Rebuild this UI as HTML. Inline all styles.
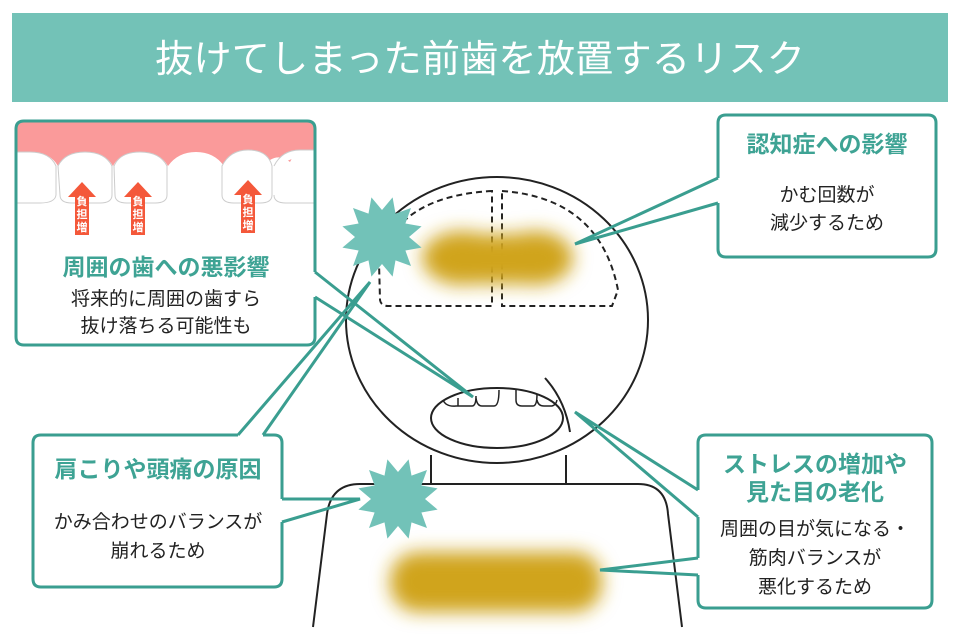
<!DOCTYPE html>
<html><head><meta charset="utf-8"><style>
html,body{margin:0;padding:0;background:#fff;}
svg{display:block;}
text{font-family:"Liberation Sans","Noto Sans CJK JP",sans-serif;}
</style></head><body>
<svg width="960" height="640" viewBox="0 0 960 640" xmlns="http://www.w3.org/2000/svg">
<defs>
<filter id="bl" x="-50%" y="-50%" width="200%" height="200%"><feGaussianBlur stdDeviation="9"/></filter>
<clipPath id="c1"><rect x="16" y="121" width="299" height="224" rx="8"/></clipPath>
<polygon id="star" points="27,0 39.6,10.6 23.4,13.5 29,29 13.5,23.4 10.6,39.6 0,27 -10.6,39.6 -13.5,23.4 -29,29 -23.4,13.5 -39.6,10.6 -27,0 -39.6,-10.6 -23.4,-13.5 -29,-29 -13.5,-23.4 -10.6,-39.6 0,-27 10.6,-39.6 13.5,-23.4 29,-29 23.4,-13.5 39.6,-10.6"/>
<g id="arr"><polygon points="0,0 14,15 7,15 7,53 -7,53 -7,15 -14,15" fill="#f4583a"/></g>
</defs>

<rect x="12" y="13" width="936" height="89" fill="#73c2b7"/>
<text x="155" y="72" font-size="38" fill="#fff" textLength="650" lengthAdjust="spacingAndGlyphs">抜けてしまった前歯を放置するリスク</text>

<path d="M313,627 L327,514 Q331,484 360,484 L638,484 Q666,484 668,514 L682,627" fill="none" stroke="#222" stroke-width="2"/>
<line x1="431" y1="455" x2="431" y2="484" stroke="#222" stroke-width="2"/>
<line x1="566" y1="455" x2="566" y2="484" stroke="#222" stroke-width="2"/>
<ellipse cx="497" cy="320" rx="151" ry="143" fill="#fff" stroke="#222" stroke-width="2"/>
<path d="M492,191 Q398,196 379,262 L380,300 Q381,306 388,306 L492,306 Z" fill="none" stroke="#222" stroke-width="2" stroke-dasharray="6,4"/>
<path d="M502,191 Q600,198 618,290 L612,306 L502,306 Z" fill="none" stroke="#222" stroke-width="2" stroke-dasharray="6,4"/>
<ellipse cx="497" cy="418" rx="66" ry="30" fill="#fff" stroke="#222" stroke-width="2"/>
<path d="M443,400 Q446,407 456,406 L472,406 Q476,406 476,396 M458,398 L458,406 M476,398 Q477,406 482,406 L494,406 Q499,406 499,390 M516,390 L516,400 Q516,406 522,406 L533,406 Q537,406 537,394 M537,400 Q538,406 544,406 L552,406 Q556,405 557,400" fill="none" stroke="#222" stroke-width="1.5"/>
<path d="M545,378 Q565,400 570,432" fill="none" stroke="#222" stroke-width="2"/>

<g filter="url(#bl)" fill="#d0a41e">
<ellipse cx="462" cy="258" rx="40" ry="27"/>
<ellipse cx="535" cy="258" rx="38" ry="27"/>
<rect x="440" y="234" width="118" height="50" rx="20"/>
<rect x="390" y="552" width="212" height="60" rx="28"/>
</g>

<use href="#star" transform="translate(382,237)" fill="#72c2b8"/>
<use href="#star" transform="translate(398,499)" fill="#72c2b8"/>

<g fill="none" stroke="#3a9e90" stroke-width="3" stroke-linejoin="miter">
<g clip-path="url(#c1)">
<rect x="16" y="121" width="299" height="224" fill="#fff" stroke="none"/>
<path d="M16,121 H315 V150 Q295,150 290,162 Q280,154 270,160 Q260,150 248,150 Q230,150 224,166 Q214,152 196,152 Q178,152 168,166 Q160,152 140,152 Q120,152 113,166 Q105,152 85,152 Q65,152 58,166 Q50,152 30,152 L16,152 Z" fill="#fa9a9a" stroke="none"/>
<path d="M16,152 L30,152 Q50,152 56,166 L56,195 Q55,203 40,203 L16,203 M58,166 Q65,152 85,152 Q105,152 112,166 L112,195 Q112,203 100,203 L72,203 Q60,203 60,195 Z M114,166 Q120,152 140,152 Q160,152 167,166 L167,195 Q167,203 155,203 L127,203 Q115,203 115,195 Z M222,166 Q230,150 248,150 Q268,150 272,166 L272,195 Q272,203 260,203 L234,203 Q222,203 222,195 Z M274,166 Q282,150 300,150 L315,150 M315,203 L286,203 Q274,203 274,195" fill="#fff" stroke="#ccc" stroke-width="1"/>
</g>
<path d="M315,297 V337 Q315,345 307,345 H24 Q16,345 16,337 V129 Q16,121 24,121 H307 Q315,121 315,129 V272"/>
<path d="M718,203 V249 Q718,257 726,257 H928 Q936,257 936,249 V123 Q936,115 928,115 H726 Q718,115 718,123 V178"/>
<path d="M698,517 V558 M698,575 V600 Q698,608 706,608 H924 Q932,608 932,600 V443 Q932,435 924,435 H706 Q698,435 698,443 V490"/>
<path d="M263,435 H274 Q282,435 282,443 V499 M282,522 V579 Q282,587 274,587 H41 Q33,587 33,579 V443 Q33,435 41,435 H238"/>
<path d="M315,272 L473,397 L315,297"/>
<path d="M718,178 L575,244 L718,203"/>
<path d="M698,490 L575,412 L698,517"/>
<path d="M698,558 L600,570 L698,575"/>
<path d="M238,435 L370,282 L263,435"/>
<path d="M282,499 L360,499 L282,522"/>
</g>

<use href="#arr" transform="translate(82,182)"/>
<use href="#arr" transform="translate(138,182)"/>
<use href="#arr" transform="translate(248,180)"/>
<g font-size="11" fill="#fff" text-anchor="middle" font-weight="bold">
<text x="82" y="205">負</text><text x="82" y="218">担</text><text x="82" y="231">増</text>
<text x="138" y="205">負</text><text x="138" y="218">担</text><text x="138" y="231">増</text>
<text x="248" y="203">負</text><text x="248" y="216">担</text><text x="248" y="229">増</text>
</g>

<g font-weight="bold" fill="#3ea394" font-size="23" text-anchor="middle">
<text x="166" y="275">周囲の歯への悪影響</text>
<text x="827" y="152">認知症への影響</text>
<text x="815" y="472">ストレスの増加や</text>
<text x="815" y="500">見た目の老化</text>
<text x="158" y="477">肩こりや頭痛の原因</text>
</g>
<g fill="#222" font-size="19" text-anchor="middle">
<text x="166" y="305">将来的に周囲の歯すら</text>
<text x="166" y="332">抜け落ちる可能性も</text>
<text x="827" y="201">かむ回数が</text>
<text x="827" y="229">減少するため</text>
<text x="815" y="535">周囲の目が気になる・</text>
<text x="815" y="564">筋肉バランスが</text>
<text x="815" y="593">悪化するため</text>
<text x="158" y="528">かみ合わせのバランスが</text>
<text x="158" y="557">崩れるため</text>
</g>
</svg>
</body></html>
